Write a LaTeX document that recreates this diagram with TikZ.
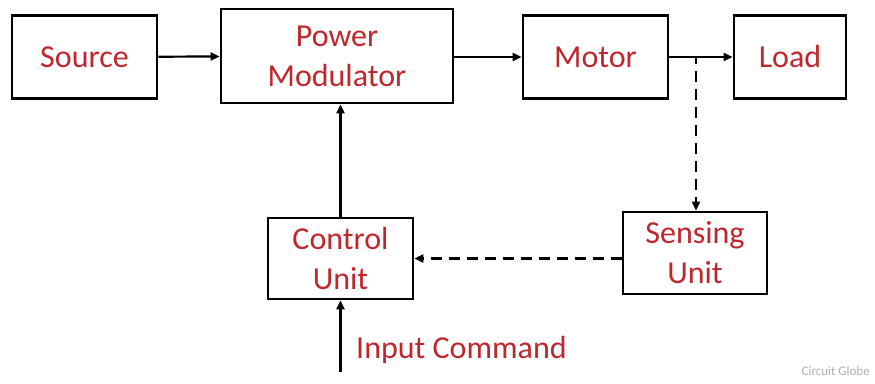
\documentclass[tikz,border=0pt]{standalone}
\usepackage{fontspec}
\setmainfont{Carlito}
\usetikzlibrary{arrows.meta}
\definecolor{txtred}{RGB}{190,40,45}
\definecolor{wm}{RGB}{175,175,175}
\tikzset{
  blk/.style={draw=black, line width=2.8pt, rectangle, inner sep=0pt, align=center,
    text=txtred, font=\fontsize{32}{40}\selectfont},
  conn/.style={line width=2.2pt, -{Triangle[length=9pt,width=8pt]}},
  dconn/.style={conn, dash pattern=on 11pt off 7pt},
}
\begin{document}
\begin{tikzpicture}[x=1pt,y=-1pt]
\useasboundingbox[fill=white] (0,0) rectangle (875,383);
\node[blk, minimum width=145pt, minimum height=83pt] (src) at (84.5,57) {Source};
\node[blk, minimum width=232pt, minimum height=94pt] (pm) at (337,56) {Power\\Modulator};
\node[blk, minimum width=145pt, minimum height=83pt] (mot) at (595.5,57) {Motor};
\node[blk, minimum width=112pt, minimum height=83pt] (load) at (790,57) {Load};
\node[blk, minimum width=144pt, minimum height=82pt] (sens) at (695,253) {Sensing\\Unit};
\node[blk, minimum width=145pt, minimum height=81pt] (ctrl) at (340.5,258.5) {Control\\Unit};
\coordinate (branch) at (696,57);
\coordinate (inp) at (340.5,372);
\draw[conn] (src) -- (pm);
\draw[conn] (pm.east |- mot.west) -- (mot);
\draw[conn] (mot) -- (load);
\draw[dconn, dash phase=4pt] (branch) -- (branch |- sens.north);
\draw[dconn] (sens.west |- ctrl.east) -- (ctrl.east);
\draw[conn] (ctrl.north) -- (ctrl.north |- pm.south);
\draw[conn] (inp) -- (ctrl.south);
\node[anchor=west, text=txtred, font=\fontsize{32}{40}\selectfont, inner sep=0pt] (inlbl) at (356,350) {Input Command};
\node[anchor=east, text=wm, font=\fontsize{13}{15}\selectfont, inner sep=0pt] (cg) at (870,371) {Circuit Globe};
\end{tikzpicture}
\end{document}
